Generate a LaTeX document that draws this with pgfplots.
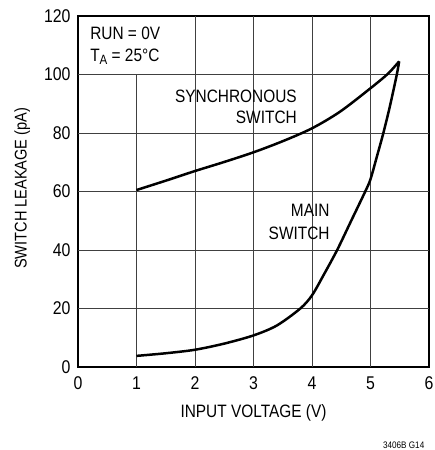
\documentclass[border=0pt]{standalone}
\usepackage{fontspec}
\setmainfont{Liberation Sans}[FakeStretch=0.86]
\usepackage{pgfplots}
\pgfplotsset{compat=1.18}
\begin{document}
\begin{tikzpicture}
\begin{axis}[
  scale only axis, width=351bp, height=351bp,
  at={(0,0)}, anchor=south west,
  xmin=0, xmax=6, ymin=0, ymax=120,
  xtick={0,1,...,6}, ytick={0,20,...,120},
  major tick length=0pt,
  axis line style={line width=1.2pt},
  tick label style={font=\fontsize{18.5}{21}\selectfont},
  /pgf/number format/assume math mode=true,
  xticklabel style={yshift=-6pt},
  yticklabel style={xshift=-4pt},
  clip=false,
]
% grid
\foreach \yy in {20,40,60,80,100} {
  \edef\temp{\noexpand\draw[black!75, line width=0.9pt] (axis cs:0,\yy) -- (axis cs:6,\yy);}
  \temp
}
\draw[black!75, line width=0.9pt] (axis cs:1,0) -- (axis cs:1,100);
\foreach \xx in {2,3,4,5} {
  \edef\temp{\noexpand\draw[black!75, line width=0.9pt] (axis cs:\xx,0) -- (axis cs:\xx,120);}
  \temp
}
% synchronous switch
\addplot[black, line width=2.5pt, smooth, tension=0.5] coordinates {
  (1,60.5) (1.5,63.7) (2,67) (2.5,70.1) (3,73.4) (3.5,77.2) (4,81.6) (4.48,87.3) (5.0,95.3) (5.3,100.3) (5.49,104.5)
};
% main switch
\addplot[black, line width=2.5pt, smooth, tension=0.5] coordinates {
  (1,3.8) (1.5,4.7) (2,5.9) (2.5,8.0) (3,10.8) (3.4,14.2) (3.8,20) (4,24.5) (4.2,31.5) (4.43,40) (4.67,50) (4.91,60) (5.0,64.2) (5.11,72) (5.22,80) (5.33,89) (5.45,100) (5.49,104.5)
};
% labels
\node[anchor=base west, font=\fontsize{18}{20}\selectfont] at (axis cs:0.15,111.8) {RUN = 0V};
\node[anchor=base west, font=\fontsize{18}{20}\selectfont] at (axis cs:0.15,104.6) {T\raisebox{-0.35ex}{\fontsize{13.5}{15}\selectfont A} = 25°C};
\node[anchor=base east, font=\fontsize{18}{20}\selectfont] at (axis cs:3.8,90.3) {SYNCHRONOUS};
\node[anchor=base east, font=\fontsize{18}{20}\selectfont] at (axis cs:3.8,83.3) {SWITCH};
\node[anchor=base east, font=\fontsize{18}{20}\selectfont] at (axis cs:4.36,51.4) {MAIN};
\node[anchor=base east, font=\fontsize{18}{20}\selectfont] at (axis cs:4.36,43.7) {SWITCH};
\node[anchor=base, font=\fontsize{18}{20}\selectfont] at (axis cs:3.0,-17.3) {INPUT VOLTAGE (V)};
\node[anchor=base, rotate=90, font=\fontsize{17}{20}\selectfont] at (axis cs:-0.877,61.1) {SWITCH LEAKAGE (pA)};
\node[anchor=base east, font=\fontsize{9.5}{11}\selectfont] at (axis cs:5.98,-27.7) {3406B G14};
\end{axis}
\pgfresetboundingbox
\path[use as bounding box] (-78bp,-83bp) rectangle (357bp,367bp);
\end{tikzpicture}
\end{document}
